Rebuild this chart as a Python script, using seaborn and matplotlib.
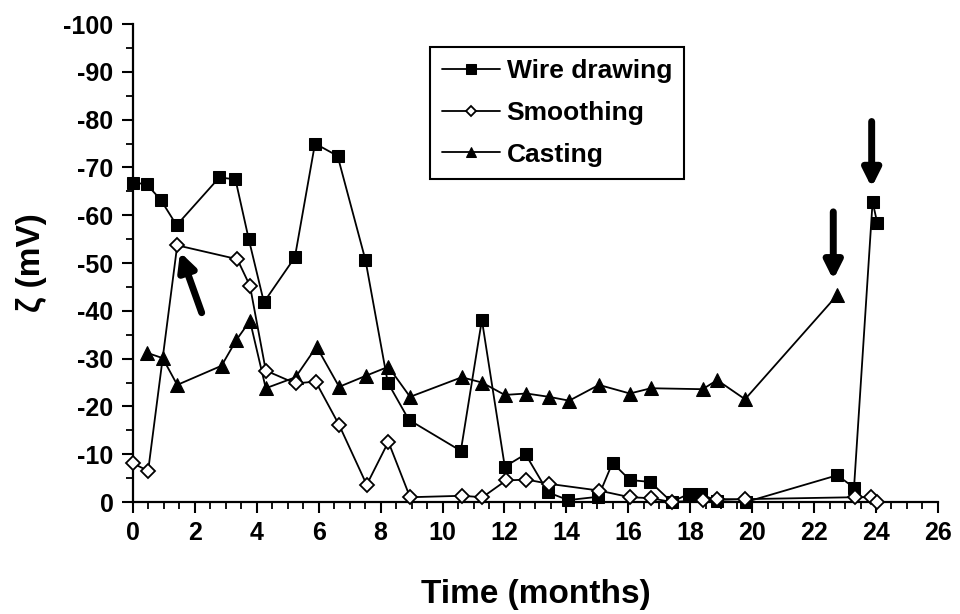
import matplotlib
matplotlib.use("Agg")
import matplotlib.pyplot as plt
import seaborn as sns
import pandas as pd
from matplotlib.ticker import MultipleLocator

# ---- data (months, zeta potential in mV) ----
wire_x = [0, 0.44, 0.9, 1.41, 2.79, 3.31, 3.74, 4.23, 5.23, 5.88, 6.61, 7.51, 8.23, 8.91,
          10.59, 11.27, 12.01, 12.68, 13.41, 14.06, 15.03, 15.49, 16.05, 16.71, 17.4,
          17.95, 18.35, 18.85, 19.8, 22.75, 23.29, 23.89, 24.04]
wire_y = [-66.8, -66.5, -63.2, -57.9, -67.9, -67.5, -55.0, -41.8, -51.2, -75.0, -72.4, -50.6,
          -25.0, -17.2, -10.7, -38.1, -7.4, -10.0, -2.0, -0.4, -1.1, -8.2, -4.6, -4.2, 0,
          -1.7, -1.7, -0.2, 0, -5.6, -3.0, -62.8, -58.4]

smooth_x = [0, 0.49, 1.43, 3.37, 3.78, 4.29, 5.25, 5.9, 6.66, 7.55, 8.25, 8.95, 10.62, 11.29,
            12.05, 12.71, 13.44, 15.05, 16.05, 16.73, 17.4, 18.42, 18.88, 19.77, 23.32,
            23.85, 24.04]
smooth_y = [-8.1, -6.5, -53.7, -50.8, -45.2, -27.5, -24.8, -25.2, -16.1, -3.6, -12.6, -1.0,
            -1.3, -1.0, -4.5, -4.7, -3.8, -2.4, -1.0, -0.8, 0, -0.4, -0.6, -0.6, -1.0,
            -1.0, 0]

cast_x = [0.46, 0.96, 1.43, 2.86, 3.34, 3.78, 4.29, 5.25, 5.93, 6.66, 7.52, 8.25, 8.95,
          10.62, 11.27, 12.01, 12.71, 13.44, 14.09, 15.05, 16.05, 16.73, 18.4, 18.87,
          19.77, 22.75]
cast_y = [-31.2, -30.1, -24.5, -28.5, -33.9, -37.9, -23.8, -26.1, -32.5, -24.1, -26.4,
          -28.3, -22.0, -26.1, -25.0, -22.4, -22.7, -22.0, -21.2, -24.5, -22.7, -23.8,
          -23.6, -25.5, -21.5, -43.3]

series_names = ["Wire drawing", "Smoothing", "Casting"]

# arrows: (tail, tip) in data coordinates
arrows = [((2.22, -39.6), (1.52, -52.3)),
          ((22.62, -60.7), (22.62, -46.5)),
          ((23.86, -79.6), (23.86, -65.8))]

x_ticks_step, y_ticks_step = 2, 10

sns.set_theme(style="ticks")
plt.rcParams["font.family"] = ["Liberation Sans", "DejaVu Sans"]
plt.rcParams["font.weight"] = "bold"
plt.rcParams["axes.unicode_minus"] = False
for k in ["text.color", "axes.labelcolor", "xtick.color", "ytick.color", "axes.edgecolor"]:
    plt.rcParams[k] = "black"

fig = plt.figure(figsize=(9.6, 6.14), dpi=100)
ax = fig.add_axes([0.1385, 0.1824, 0.8385, 0.7785])

df_w = pd.DataFrame({"x": wire_x, "y": wire_y})
df_s = pd.DataFrame({"x": smooth_x, "y": smooth_y})
df_c = pd.DataFrame({"x": cast_x, "y": cast_y})

common = dict(ax=ax, sort=False, estimator=None, color="black", linewidth=1.3, clip_on=False)
sns.lineplot(data=df_w, x="x", y="y", marker="s", markersize=9, markerfacecolor="black",
             markeredgecolor="black", label=series_names[0], zorder=3, **common)
sns.lineplot(data=df_s, x="x", y="y", marker="D", markersize=7, markerfacecolor="white",
             markeredgecolor="black", markeredgewidth=1.3, label=series_names[1], zorder=4,
             **common)
sns.lineplot(data=df_c, x="x", y="y", marker="^", markersize=10, markerfacecolor="black",
             markeredgecolor="black", label=series_names[2], zorder=3, **common)

for tail, tip in arrows:
    ax.annotate("", xy=tip, xytext=tail,
                arrowprops=dict(arrowstyle="-|>", lw=5, color="black",
                                mutation_scale=26, shrinkA=0, shrinkB=0))

ax.set_xlim(0, 26)
ax.set_ylim(0, -100)
ax.xaxis.set_major_locator(MultipleLocator(x_ticks_step))
ax.xaxis.set_minor_locator(MultipleLocator(0.5))
ax.yaxis.set_major_locator(MultipleLocator(y_ticks_step))
ax.yaxis.set_minor_locator(MultipleLocator(5))
ax.tick_params(which="major", direction="out", length=8, width=1.5, labelsize=18, color="black",
               labelcolor="black", pad=6)
ax.tick_params(which="minor", direction="out", length=5, width=1.3, color="black")
for lab in ax.get_xticklabels() + ax.get_yticklabels():
    lab.set_fontweight("bold")

sns.despine(ax=ax)
for sp in ["left", "bottom"]:
    ax.spines[sp].set_linewidth(1.6)
    ax.spines[sp].set_color("black")

ax.set_xlabel("Time (months)", fontsize=24, fontweight="bold", labelpad=24, color="black")
ax.set_ylabel("ζ (mV)", fontsize=24, fontweight="bold", labelpad=12, color="black")

leg = ax.legend(loc="upper left", bbox_to_anchor=(0.369, 0.952), fontsize=19,
                frameon=True, fancybox=False, edgecolor="black", framealpha=1,
                handlelength=2.2, handletextpad=0.25, borderpad=0.45, labelspacing=0.68,
                markerscale=0.75, borderaxespad=0)
leg.get_frame().set_linewidth(1.5)
for t in leg.get_texts():
    t.set_fontweight("bold")
    t.set_color("black")

fig.savefig("out.png", dpi=100)
